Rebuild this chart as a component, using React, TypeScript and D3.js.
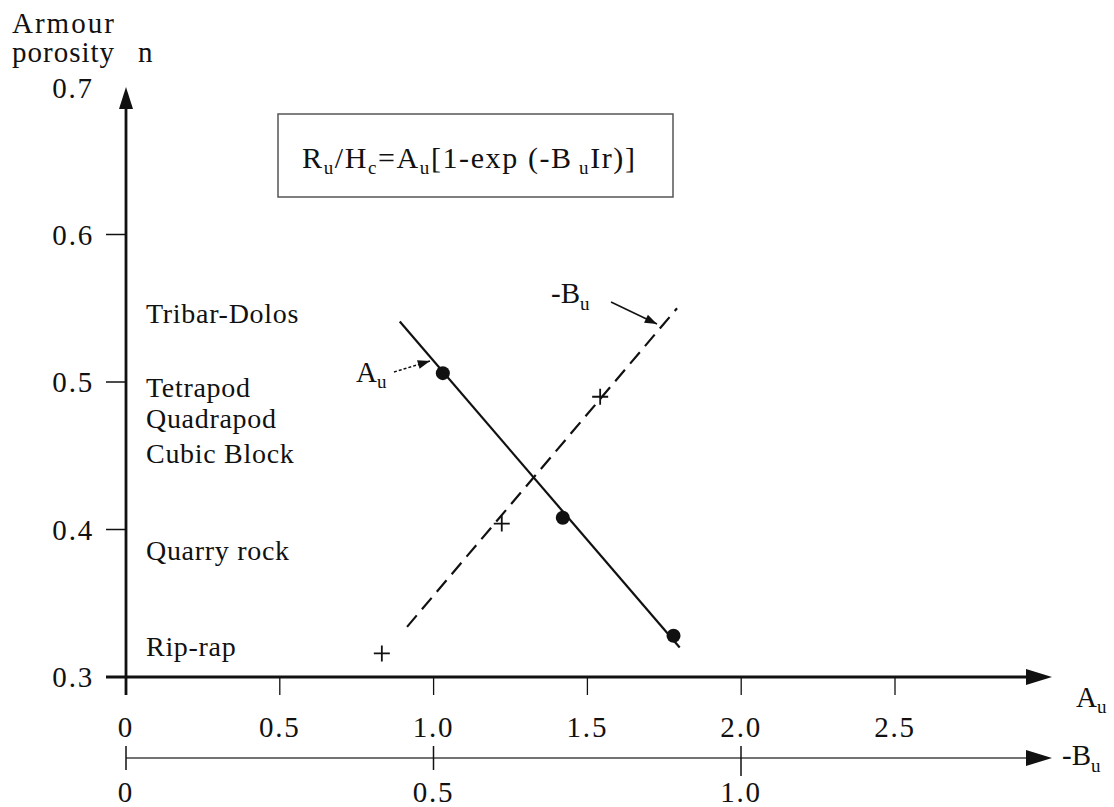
import React, { useEffect, useRef } from 'react';
import * as d3 from 'd3';

// values
const auA = [1.03, 1.42, 1.78];
const auN = [0.506, 0.408, 0.328];
const buB = [0.416, 0.611, 0.771];
const buN = [0.316, 0.404, 0.49];
const auFitA = [0.89, 1.8];
const auFitN = [0.541, 0.32];
const buFitB = [0.457, 0.896];
const buFitN = [0.334, 0.55];
const yTicks = [0.3, 0.4, 0.5, 0.6, 0.7];
const aTicks = [0, 0.5, 1.0, 1.5, 2.0, 2.5];
const aTickLabels = ['0', '0.5', '1.0', '1.5', '2.0', '2.5'];
const bTicks = [0, 0.5, 1.0];
const bTickLabels = ['0', '0.5', '1.0'];
const materials = ['Tribar-Dolos', 'Tetrapod', 'Quadrapod', 'Cubic Block', 'Quarry rock', 'Rip-rap'];
const materialN = [0.54, 0.49, 0.469, 0.445, 0.379, 0.314];

const FONT = '"Liberation Serif", "DejaVu Serif", serif';
const INK = '#111';

const App = () => {
  const svgRef = useRef<SVGSVGElement>(null);

  useEffect(() => {
    const width = 1114;
    const height = 807;
    const svg = d3.select(svgRef.current).attr('width', width).attr('height', height);
    svg.selectAll('*').remove();

    const x = d3.scaleLinear().domain([0, 2.5]).range([126, 895]);
    const xb = d3.scaleLinear().domain([0, 1]).range([126, 741]);
    const y = d3.scaleLinear().domain([0.3, 0.7]).range([677, 87]);

    const g = svg.append('g').attr('font-family', FONT).attr('fill', INK);

    const label = (tx: number, ty: number, s: string, anchor = 'start', size = 29, ls = 1.8) =>
      g.append('text')
        .attr('x', tx).attr('y', ty)
        .attr('text-anchor', anchor).attr('font-size', size).attr('letter-spacing', ls)
        .text(s);

    // y axis with arrow
    g.append('line')
      .attr('x1', x(0)).attr('x2', x(0))
      .attr('y1', y(0.3) + 18).attr('y2', y(0.7) + 12)
      .attr('stroke', INK).attr('stroke-width', 2.8);
    g.append('path')
      .attr('d', `M${x(0)},${y(0.7)} L${x(0) - 7},${y(0.7) + 22} L${x(0) + 7},${y(0.7) + 22} Z`)
      .attr('fill', INK);

    yTicks.slice(0, 4).forEach((t) => {
      g.append('line')
        .attr('x1', x(0) - 20).attr('x2', x(0))
        .attr('y1', y(t)).attr('y2', y(t))
        .attr('stroke', INK).attr('stroke-width', 1.5);
      label(x(0) - 32, y(t) + 10, t.toFixed(1), 'end');
    });
    label(73, y(0.7) + 11, '0.7', 'middle');

    label(12, 33, 'Armour', 'start', 29, 2);
    label(12, 62, 'porosity', 'start', 29, 1);
    label(138, 62, 'n', 'start', 29, 0);

    // A_u axis
    const xEnd = 1052;
    g.append('line')
      .attr('x1', 106).attr('x2', xEnd - 20)
      .attr('y1', y(0.3)).attr('y2', y(0.3))
      .attr('stroke', INK).attr('stroke-width', 2.8);
    g.append('path')
      .attr('d', `M${xEnd},${y(0.3)} L${xEnd - 26},${y(0.3) - 8} L${xEnd - 26},${y(0.3) + 8} Z`)
      .attr('fill', INK);
    aTicks.forEach((t, i) => {
      g.append('line')
        .attr('x1', x(t)).attr('x2', x(t))
        .attr('y1', y(0.3)).attr('y2', y(0.3) + 18)
        .attr('stroke', INK).attr('stroke-width', 1.3);
      label(x(t), 737, aTickLabels[i], 'middle');
    });
    const aLab = g.append('text').attr('x', 1076).attr('y', 707).attr('font-size', 29);
    aLab.append('tspan').text('A');
    aLab.append('tspan').attr('dy', 6).attr('font-size', 19).text('u');

    // -B_u axis
    const by = 758;
    g.append('line')
      .attr('x1', xb(0)).attr('x2', xEnd - 20)
      .attr('y1', by).attr('y2', by)
      .attr('stroke', '#444').attr('stroke-width', 1.6);
    g.append('path')
      .attr('d', `M${xEnd},${by} L${xEnd - 26},${by - 8} L${xEnd - 26},${by + 8} Z`)
      .attr('fill', INK);
    bTicks.forEach((t, i) => {
      g.append('line')
        .attr('x1', xb(t)).attr('x2', xb(t))
        .attr('y1', by - 12).attr('y2', by + (i === 2 ? 18 : 12))
        .attr('stroke', INK).attr('stroke-width', 1.5);
      label(xb(t), 802, bTickLabels[i], 'middle');
    });
    const bLab = g.append('text').attr('x', 1062).attr('y', 765).attr('font-size', 29);
    bLab.append('tspan').text('-B');
    bLab.append('tspan').attr('dy', 7).attr('font-size', 19).text('u');

    // materials along the y axis
    materials.forEach((m, i) => {
      label(146, y(materialN[i]), m, 'start', 28, 0.7);
    });

    // equation box
    g.append('rect')
      .attr('x', 278).attr('y', 114).attr('width', 395).attr('height', 83)
      .attr('fill', 'none').attr('stroke', '#555').attr('stroke-width', 1.5);
    const eq = g.append('text').attr('x', 302).attr('y', 168).attr('font-size', 30).attr('letter-spacing', 1.6);
    const parts: [string, boolean][] = [
      ['R', false], ['u', true], ['/H', false], ['c', true], ['=A', false], ['u', true],
      ['[1-exp (-B', false], [' u', true], ['Ir)]', false],
    ];
    parts.forEach(([s, sub], i) => {
      const prevSub = i > 0 && parts[i - 1][1];
      const dy = sub ? 6 : prevSub ? -6 : 0;
      eq.append('tspan').attr('dy', dy).attr('font-size', sub ? 19 : 30).text(s);
    });

    const line = d3.line<[number, number]>().x((d) => d[0]).y((d) => d[1]);

    // A_u fit line + dots
    g.append('path')
      .attr('d', line(auFitA.map((a, i) => [x(a), y(auFitN[i])] as [number, number])))
      .attr('stroke', INK).attr('stroke-width', 2.2).attr('fill', 'none');
    auA.forEach((a, i) => {
      g.append('circle').attr('cx', x(a)).attr('cy', y(auN[i])).attr('r', 7).attr('fill', INK);
    });

    // -B_u fit line (dashed) + pluses
    g.append('path')
      .attr('d', line(buFitB.map((b, i) => [xb(b), y(buFitN[i])] as [number, number])))
      .attr('stroke', INK).attr('stroke-width', 2.2).attr('fill', 'none')
      .attr('stroke-dasharray', '15,8');
    buB.forEach((b, i) => {
      const cx = xb(b);
      const cy = y(buN[i]);
      g.append('path')
        .attr('d', `M${cx - 8},${cy} H${cx + 8} M${cx},${cy - 8} V${cy + 8}`)
        .attr('stroke', INK).attr('stroke-width', 1.8);
    });

    // annotation arrows
    const arrow = (x1: number, y1: number, x2: number, y2: number, dash: string | null) => {
      g.append('line')
        .attr('x1', x1).attr('y1', y1).attr('x2', x2).attr('y2', y2)
        .attr('stroke', INK).attr('stroke-width', 1.5)
        .attr('stroke-dasharray', dash);
      const ang = Math.atan2(y2 - y1, x2 - x1);
      const L = 13;
      const w = 0.35;
      const p1 = [x2 - L * Math.cos(ang - w), y2 - L * Math.sin(ang - w)];
      const p2 = [x2 - L * Math.cos(ang + w), y2 - L * Math.sin(ang + w)];
      g.append('path')
        .attr('d', `M${x2},${y2} L${p1[0]},${p1[1]} L${p2[0]},${p2[1]} Z`)
        .attr('fill', INK);
    };
    arrow(394, 372, 430, 361, '3,2');
    arrow(611, 302, 657, 324, null);

    const aNote = g.append('text').attr('x', 356).attr('y', 382).attr('font-size', 29);
    aNote.append('tspan').text('A');
    aNote.append('tspan').attr('dy', 6).attr('font-size', 19).text('u');
    const bNote = g.append('text').attr('x', 551).attr('y', 303).attr('font-size', 29);
    bNote.append('tspan').text('-B');
    bNote.append('tspan').attr('dy', 7).attr('font-size', 19).text('u');
  }, []);

  return (
    <svg ref={svgRef} style={{ position: 'absolute', left: 0, top: 0, background: '#fff' }}></svg>
  );
};

export default App;
